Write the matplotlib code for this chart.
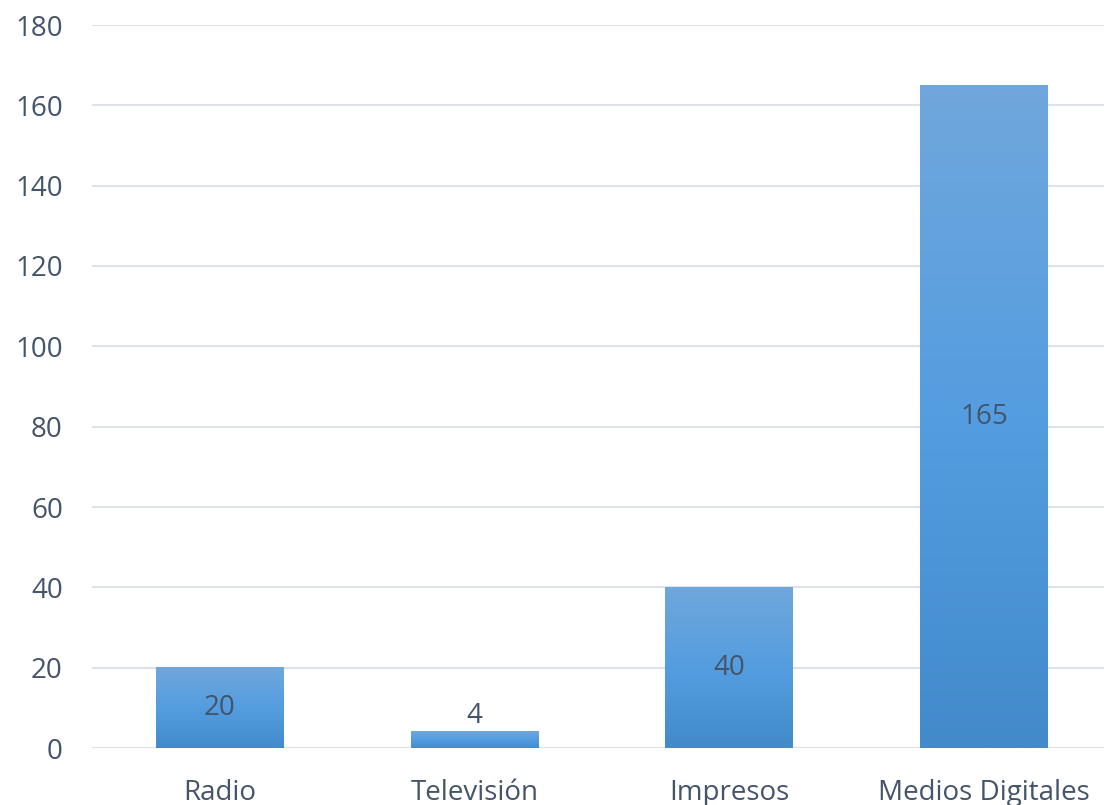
import matplotlib.pyplot as plt
import numpy as np
from matplotlib.colors import LinearSegmentedColormap

categories = ["Radio", "Televisión", "Impresos", "Medios Digitales"]
values = [20, 4, 40, 165]
y_ticks = [0, 20, 40, 60, 80, 100, 120, 140, 160, 180]

text_color = "#44546A"
grid_color = "#DEE2EA"
bar_cmap = LinearSegmentedColormap.from_list(
    "bar_grad", ["#428ACA", "#549DE0", "#70A7DC"]
)

plt.rcParams["font.family"] = ["Open Sans", "DejaVu Sans"]

fig = plt.figure(figsize=(11.04, 8.05), dpi=100)
ax = fig.add_axes([92 / 1104, 57 / 805, (1111.5 - 92) / 1104, (748 - 25) / 805])

x = np.arange(len(categories))
bars = ax.bar(x, values, width=0.5, color="none", zorder=2)

# vertical gradient fill, drawn into each bar's own rectangle
gradient = np.linspace(0, 1, 256).reshape(-1, 1)
for rect in bars:
    x0, y0 = rect.get_x(), rect.get_y()
    w, h = rect.get_width(), rect.get_height()
    ax.imshow(
        gradient,
        cmap=bar_cmap,
        origin="lower",
        extent=(x0, x0 + w, y0, y0 + h),
        aspect="auto",
        zorder=2,
    )

for xi, v in zip(x, values):
    if v >= 10:
        ax.text(xi, v / 2, str(v), ha="center", va="center", fontsize=20, color=text_color, zorder=3)
    else:
        ax.text(xi, v + 0.6, str(v), ha="center", va="bottom", fontsize=20, color=text_color, zorder=3)

ax.set_xlim(-0.5, len(categories) - 0.5)
ax.set_ylim(0, 180)
ax.set_yticks(y_ticks)
ax.set_xticks(x)
ax.set_xticklabels(categories)
ax.tick_params(axis="both", length=0, labelsize=20, colors=text_color)
ax.tick_params(axis="y", pad=21)
ax.tick_params(axis="x", pad=22)
ax.grid(True, axis="y", color=grid_color, linewidth=1.5, zorder=0)
ax.set_axisbelow(True)
for spine in ax.spines.values():
    spine.set_visible(False)

fig.savefig("out.png", dpi=100)
